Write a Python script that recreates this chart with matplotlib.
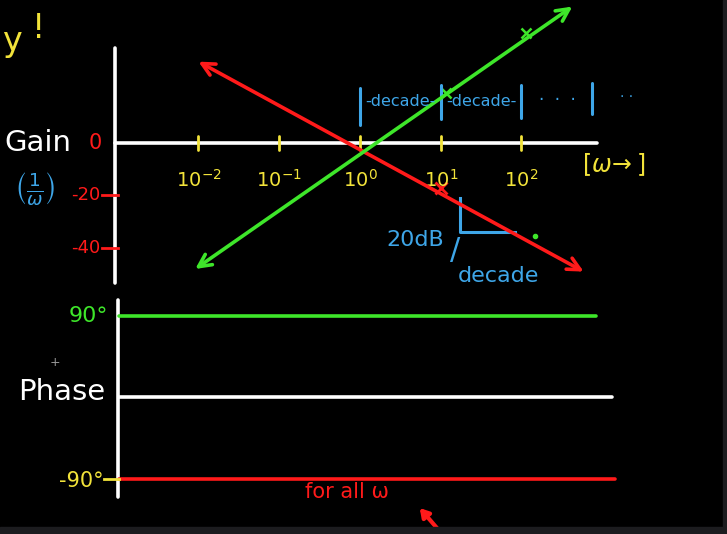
import numpy as np
import matplotlib.pyplot as plt

# --- data ---
decades = [-2, -1, 0, 1, 2]                      # x ticks, log10(omega)
decade_labels = [r"$10^{-2}$", r"$10^{-1}$", r"$10^{0}$", r"$10^{1}$", r"$10^{2}$"]
gain_ticks = [0, -20, -40]                        # dB
gain_tick_labels = ["0", "-20", "-40"]

# 1/w line (red) and w line (green): end points (log10 w, dB)
red_w = [-2.0, 2.77]
red_db = [31, -49]
green_w = [-2.04, 2.63]
green_db = [-48, 52]

# phase lines (deg), drawn for all w
phase_vals = [90, 0, -90]
phase_cols = ["#3ee62a", "white", "#ff1a1a"]
phase_end = [2.92, 3.12, 3.16]

RED = "#ff1a1a"
GREEN = "#3ee62a"
YEL = "#f2e33a"
BLUE = "#3ea6e8"

W, H = 727, 534
fig = plt.figure(figsize=(W / 100, H / 100), dpi=100)
fig.patch.set_facecolor("black")

ax = fig.add_axes([0, 0, 1, 1])
ax.set_xscale("log")
ax.set_xlim(10 ** -4.458, 10 ** 4.545)
ax.set_ylim(-149, 54.5)
ax.set_facecolor("black")
ax.axis("off")

ax2 = fig.add_axes([0, 0, 1, 1], sharex=ax)
ax2.set_ylim(-150.7, 438.8)
ax2.patch.set_alpha(0)
ax2.axis("off")

def px(x, y, s, **kw):
    fig.text(x / W, 1 - y / H, s, **kw)

lw = 2.6
kw = dict(solid_capstyle="round", lw=lw)

# gain axes
ax.plot([10 ** -3.034] * 2, [36.2, -53.3], color="white", **kw)
ax.plot([10 ** -3.034, 10 ** 2.935], [0, 0], color="white", **kw)
for d in decades:
    ax.plot([10 ** d] * 2, [2.8, -2.8], color=YEL, lw=2, solid_capstyle="round")
    ax.text(10 ** d, -14, decade_labels[decades.index(d)], color=YEL, fontsize=14,
            ha="center", va="center")
for g, lab in zip(gain_ticks[1:], gain_tick_labels[1:]):
    ax.plot([10 ** -3.2, 10 ** -3.0], [g, g], color=RED, lw=2)
    ax.text(10 ** -3.22, g, lab, color=RED, fontsize=13, ha="right", va="center")
ax.text(10 ** -3.2, 0, gain_tick_labels[0], color=RED, fontsize=15, ha="right", va="center")

# red 1/w and green w lines with arrow heads
ax.annotate("", xy=(10 ** red_w[1], red_db[1]), xytext=(10 ** red_w[0], red_db[0]),
            arrowprops=dict(arrowstyle="<->,head_length=0.9,head_width=0.45",
                            color=RED, lw=lw, shrinkA=0, shrinkB=0))
ax.annotate("", xy=(10 ** green_w[1], green_db[1]), xytext=(10 ** green_w[0], green_db[0]),
            arrowprops=dict(arrowstyle="<->,head_length=0.9,head_width=0.45",
                            color=GREEN, lw=lw, shrinkA=0, shrinkB=0))
ax.plot([10 ** 1], [-17], marker="x", ms=9, mew=2, color=RED)
ax.plot([10 ** 1.07, 10 ** 2.05], [19, 42], ls="none", marker="x", ms=7, mew=1.8, color=GREEN)
ax.plot([10 ** 2.17], [-35.4], marker="o", ms=3, color=GREEN)

# decade markers (blue)
bars_w = [0, 1, 2, 2.87]
bars_top = [21, 22, 22, 23]
bars_bot = [7, 9, 9.5, 11]
for b, t, bt in zip(bars_w, bars_top, bars_bot):
    ax.plot([10 ** b] * 2, [t, bt], color=BLUE, lw=2.2, solid_capstyle="round")
ax.text(10 ** 0.5, 16, "-decade-", color=BLUE, fontsize=11.5, ha="center", va="center")
ax.text(10 ** 1.5, 16, "-decade-", color=BLUE, fontsize=11.5, ha="center", va="center")
ax.text(10 ** 2.45, 16.5, "·  ·  ·", color=BLUE, fontsize=12, ha="center", va="center")
ax.text(10 ** 3.3, 17.5, "· ·", color=BLUE, fontsize=10, ha="center", va="center")

# slope triangle
ax.plot([10 ** 1.24, 10 ** 1.24, 10 ** 1.92], [-21, -33.9, -33.9], color=BLUE, lw=2.2)
px(386, 240, "20dB", color=BLUE, fontsize=16, va="center")
px(450, 250, "/", color=BLUE, fontsize=22, va="center")
px(458, 276, "decade", color=BLUE, fontsize=16, va="center")

# phase axes
ax2.plot([10 ** -3.0] * 2, [107.7, -109.9], color="white", **kw)
for v, c, e in zip(phase_vals, phase_cols, phase_end):
    ax2.plot([10 ** -2.98, 10 ** e], [v, v], color=c, **kw)
ax2.plot([10 ** -3.17, 10 ** -2.98], [-90, -90], color=YEL, lw=2)

# texts
px(2, 42, "y", color=YEL, fontsize=24, va="center")
px(32, 28, "!", color=YEL, fontsize=24, va="center")
px(4, 143, "Gain", color="white", fontsize=21, va="center")
px(14, 189, r"$\left(\frac{1}{\omega}\right)$", color=BLUE, fontsize=19, va="center")
px(582, 165, r"[$\omega\!\rightarrow$]", color=YEL, fontsize=17, va="center")
px(108, 316, "90°", color=GREEN, fontsize=16, va="center", ha="right")
px(18, 392, "Phase", color="white", fontsize=21, va="center")
px(104, 481, "-90°", color=YEL, fontsize=15, va="center", ha="right")
px(305, 492, "for all ω", color=RED, fontsize=15, va="center")
px(55, 362, "+", color="#9a9a9a", fontsize=9, va="center", ha="center")

ax2.annotate("", xy=(10 ** 0.74, -122), xytext=(10 ** 0.99, -148),
             arrowprops=dict(arrowstyle="-|>,head_length=0.5,head_width=0.3",
                             color=RED, lw=3, shrinkA=0, shrinkB=0))

# screen edges
fig.patches.append(plt.Rectangle((0, 0), 1, 7 / H, transform=fig.transFigure,
                                 color="#1c1c1f", zorder=5))
fig.patches.append(plt.Rectangle((1 - 4 / W, 0), 4 / W, 1, transform=fig.transFigure,
                                 color="#1c1c1f", zorder=5))

fig.savefig("out.png", dpi=100, facecolor="black")
